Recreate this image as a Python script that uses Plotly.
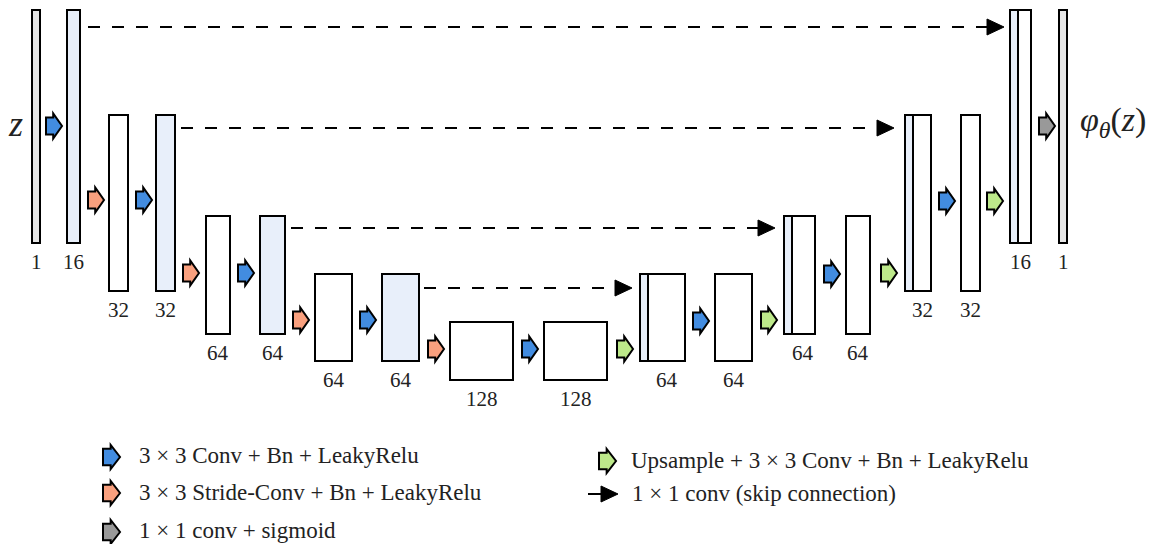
import plotly.graph_objects as go

# ---- data ----
channels = [1, 16, 32, 32, 64, 64, 64, 64, 128, 128, 64, 64, 64, 64, 32, 32, 16, 1]
block_kind = ["io", "skip", "plain", "skip", "plain", "skip", "plain", "skip", "plain", "plain",
              "concat", "plain", "concat", "plain", "concat", "plain", "concat", "io"]
op_kind = ["conv", "stride", "conv", "stride", "conv", "stride", "conv", "stride", "conv",
           "up", "conv", "up", "conv", "up", "conv", "up", "final"]
legend_items = ["3 × 3 Conv + Bn + LeakyRelu", "3 × 3 Stride-Conv + Bn + LeakyRelu",
                "1 × 1 conv + sigmoid", "Upsample + 3 × 3 Conv + Bn + LeakyRelu",
                "1 × 1 conv (skip connection)"]
legend_kind = ["conv", "stride", "final", "up", "skipline"]

# ---- layout geometry (pixels) ----
bx0 = [32, 67, 109, 156, 206, 260, 315, 382, 450, 544, 640, 715, 784, 846, 905, 961, 1010, 1059]
bx1 = [40, 80, 128, 175, 230, 285, 352, 419, 513, 607, 685, 752, 815, 870, 931, 980, 1031, 1067]
by0 = [10, 10, 115, 115, 216, 216, 274, 274, 322, 322, 274, 274, 216, 216, 115, 115, 10, 10]
by1 = [243, 243, 291, 291, 334, 334, 361, 361, 380, 380, 361, 361, 334, 334, 291, 291, 243, 243]
strip_w = 8
lab_dx = [0, 0, 0, 0, 0, 0, 0, 0, 0, 0, 4, 0, 3, 0, 4, 0, 0, 0]

arrow_x0 = [46, 88, 136, 183, 238, 293, 360, 428, 522, 617, 693, 761, 824, 881, 939, 987, 1039]
arrow_yc = [126, 200, 200, 273, 273, 320, 320, 349, 349, 349, 321, 320, 274, 273, 201, 201, 126]

skip_y = [27, 128, 228, 288]
skip_x0 = [88, 181, 291, 424]
skip_x1 = [1004, 894, 775, 632]

colors = {"conv": "#428ce0", "stride": "#f9a07e", "up": "#bde98a", "final": "#999999"}
fills = {"io": "#e6e6e6", "skip": "#e8effa", "plain": "#ffffff", "concat": "#ffffff"}
FONT = "Liberation Serif"

fig = go.Figure()
shapes = []
annotations = []


def block_arrow(x0, yc, color, w=16, h=25):
    bh = h * 0.34
    hx = x0 + w * 0.45
    x1 = x0 + w
    p = (f"M {x0},{yc-bh} L {hx},{yc-bh} L {hx},{yc-h/2} L {x1},{yc} "
         f"L {hx},{yc+h/2} L {hx},{yc+bh} L {x0},{yc+bh} Z")
    return dict(type="path", path=p, xref="x", yref="y", fillcolor=color,
                line=dict(color="black", width=2), layer="above")


def tri(x1, yc, w=17, h=16):
    p = f"M {x1-w},{yc-h/2} L {x1},{yc} L {x1-w},{yc+h/2} Z"
    return dict(type="path", path=p, xref="x", yref="y", fillcolor="black",
                line=dict(color="black", width=1))


# blocks
for i, ch in enumerate(channels):
    shapes.append(dict(type="rect", x0=bx0[i], x1=bx1[i], y0=by0[i], y1=by1[i],
                       xref="x", yref="y", fillcolor=fills[block_kind[i]],
                       line=dict(color="black", width=2)))
    if block_kind[i] == "concat":
        shapes.append(dict(type="rect", x0=bx0[i], x1=bx0[i] + strip_w, y0=by0[i], y1=by1[i],
                           xref="x", yref="y", fillcolor="#e8effa",
                           line=dict(color="black", width=2)))
    annotations.append(dict(x=(bx0[i] + bx1[i]) / 2 + lab_dx[i], y=by1[i] + 19,
                            text=str(ch), showarrow=False, xref="x", yref="y",
                            font=dict(family=FONT, size=21, color="#222")))

# operation arrows
for i, k in enumerate(op_kind):
    shapes.append(block_arrow(arrow_x0[i], arrow_yc[i], colors[k]))

# skip connections
for i in range(len(skip_y)):
    fig.add_trace(go.Scatter(x=[skip_x0[i], skip_x1[i] - 16], y=[skip_y[i], skip_y[i]],
                             mode="lines", line=dict(color="black", width=2, dash="12px,12px"),
                             hoverinfo="skip", showlegend=False))
    shapes.append(tri(skip_x1[i], skip_y[i]))

# z / phi labels
annotations.append(dict(x=15, y=124, text="<i>z</i>", showarrow=False, xref="x", yref="y",
                        font=dict(family=FONT, size=36, color="#222")))
annotations.append(dict(x=1078, y=122, text="<i>φ</i><sub><i>θ</i></sub>(<i>z</i>)",
                        showarrow=False, xref="x", yref="y", xanchor="left",
                        font=dict(family=FONT, size=34, color="#222")))

# legend
leg_ax = [103, 103, 103, 599, 588]
leg_ay = [457, 493, 532, 461, 494]
leg_tx = [137, 137, 137, 629, 630]
leg_ty = [455, 492, 530, 460, 493]
for i, txt in enumerate(legend_items):
    k = legend_kind[i]
    if k == "skipline":
        fig.add_trace(go.Scatter(x=[leg_ax[i], leg_ax[i] + 14], y=[leg_ay[i], leg_ay[i]],
                                 mode="lines", line=dict(color="black", width=2),
                                 hoverinfo="skip", showlegend=False))
        shapes.append(tri(leg_ax[i] + 30, leg_ay[i], w=17, h=16))
    else:
        shapes.append(block_arrow(leg_ax[i], leg_ay[i], colors[k], w=17, h=24))
    annotations.append(dict(x=leg_tx[i], y=leg_ty[i], text=txt, showarrow=False,
                            xref="x", yref="y", xanchor="left",
                            font=dict(family=FONT, size=23, color="#222")))

fig.update_layout(
    width=1154, height=544, margin=dict(l=0, r=0, t=0, b=0),
    plot_bgcolor="white", paper_bgcolor="white",
    xaxis=dict(range=[0, 1154], visible=False, fixedrange=True),
    yaxis=dict(range=[544, 0], visible=False, fixedrange=True),
    shapes=shapes, annotations=annotations, showlegend=False,
)
fig.write_html("out.html", config={"displayModeBar": False},
               post_script="document.body.style.margin='0';")
